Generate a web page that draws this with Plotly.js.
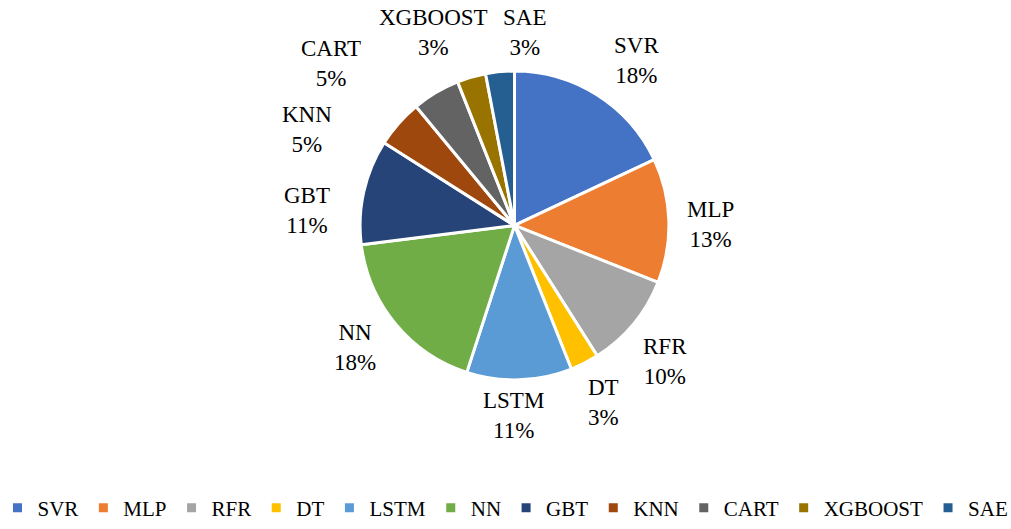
<!DOCTYPE html>
<html>
<head>
<meta charset="utf-8">
<script src="https://cdn.plot.ly/plotly-3.0.1.min.js"></script>
<style>html,body{margin:0;padding:0;background:#fff;}#chart{width:1011px;height:529px;}</style>
</head>
<body>
<div id="chart"></div>
<script>
const labels = ["SVR", "MLP", "RFR", "DT", "LSTM", "NN", "GBT", "KNN", "CART", "XGBOOST", "SAE"];
const values = [18, 13, 10, 3, 11, 18, 11, 5, 5, 3, 3];
const colors = ["#4472C4", "#ED7D31", "#A5A5A5", "#FFC000", "#5B9BD5", "#70AD47", "#264478", "#9E480E", "#636363", "#997300", "#255E91"];

// label placement (pixel centres of each data label, as laid out in the reference)
const labelPx = [[636, 61], [710, 228], [665, 366], [603, 408], [513, 421], [355, 352],
                 [307, 213], [307, 131], [331, 64], [433, 33], [524, 33]];

const W = 1011, H = 529;
const serif = "Liberation Serif, Times New Roman, serif";
const total = values.reduce((a, b) => a + b, 0);

const trace = {
  type: "pie",
  labels: labels,
  values: values,
  sort: false,
  direction: "clockwise",
  rotation: 0,
  marker: {colors: colors, line: {color: "#ffffff", width: 3}},
  textinfo: "none",
  hoverinfo: "label+percent",
  domain: {x: [358 / W, 671 / W], y: [1 - 385 / H, 1 - 72 / H]}
};

const annotations = labels.map((lab, i) => ({
  xref: "paper", yref: "paper",
  x: labelPx[i][0] / W, y: 1 - labelPx[i][1] / H,
  xanchor: "center", yanchor: "middle",
  showarrow: false,
  align: "center",
  text: lab + "<br>" + Math.round(values[i] / total * 100) + "%",
  font: {family: serif, size: 23, color: "#000000"}
}));

const layout = {
  width: W,
  height: H,
  margin: {l: 0, r: 0, t: 0, b: 0},
  paper_bgcolor: "#ffffff",
  plot_bgcolor: "#ffffff",
  showlegend: true,
  annotations: annotations,
  legend: {
    orientation: "h",
    x: 0.5, xanchor: "center",
    y: 1 - 515 / H, yanchor: "middle",
    font: {family: serif, size: 21, color: "#000000"},
    itemwidth: 30,
    tracegroupgap: 0
  }
};

Plotly.newPlot("chart", [trace], layout, {displayModeBar: false, staticPlot: true});
</script>
</body>
</html>
